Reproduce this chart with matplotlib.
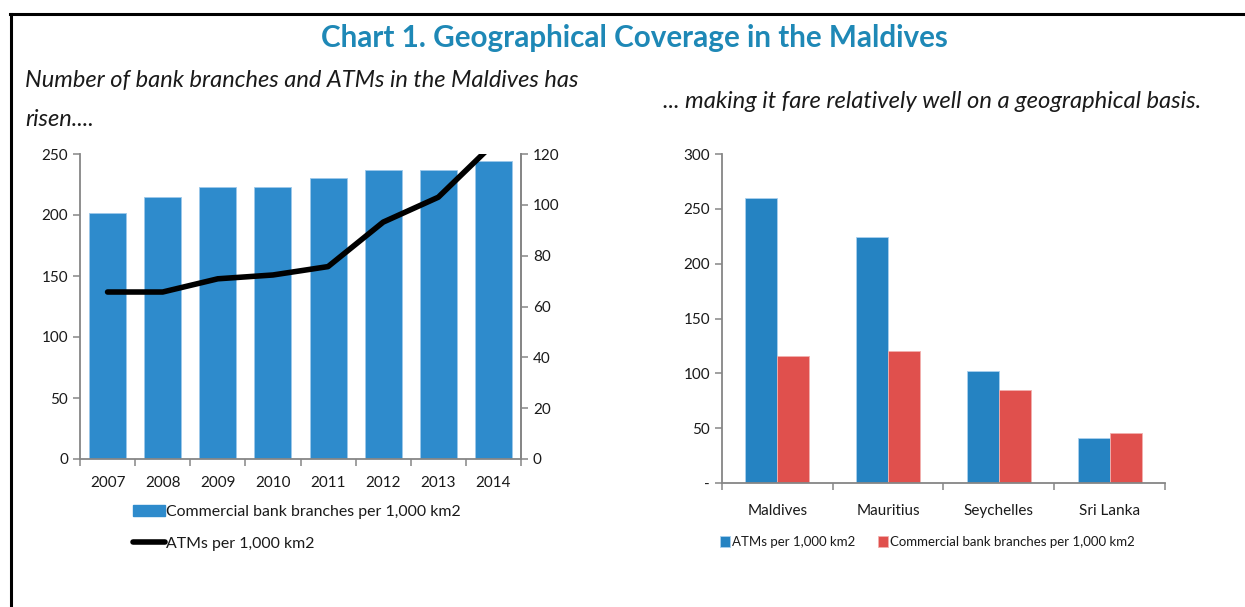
import matplotlib
matplotlib.use("Agg")
import matplotlib.pyplot as plt
from matplotlib.lines import Line2D
from matplotlib.patches import Patch
import numpy as np

plt.rcParams['font.family'] = ['Lato', 'DejaVu Sans']

# left chart data
years = ['2007', '2008', '2009', '2010', '2011', '2012', '2013', '2014']
branches = [202, 215, 223, 223, 230, 237, 237, 244]
atms = [65.7, 65.7, 70.9, 72.4, 75.7, 93.2, 103, 124]

# right chart data
countries = ['Maldives', 'Mauritius', 'Seychelles', 'Sri Lanka']
atms_cmp = [260, 224, 102, 41]
branches_cmp = [116, 120.5, 84.6, 45.4]

W, H = 1245, 607
blue_l = '#2E8BCC'
blue_r = '#2583C2'
red_r = '#E0504D'
grey = '#868686'
txt = '#1a1a1a'

fig = plt.figure(figsize=(W / 100, H / 100), dpi=100)

def box(l, t, r, b):
    return [l / W, 1 - b / H, (r - l) / W, (b - t) / H]

# frame lines (top and left)
fig.add_artist(Line2D([10 / W, 1], [1 - 14 / H] * 2, color='black', lw=2.2))
fig.add_artist(Line2D([10.5 / W] * 2, [0, 1 - 14 / H], color='black', lw=2.2))

fig.text(634 / W, 1 - 38 / H, 'Chart 1. Geographical Coverage in the Maldives',
         ha='center', va='center', fontsize=21.3, fontweight='bold', color='#1E88B6')
fig.text(25 / W, 1 - 80 / H, 'Number of bank branches and ATMs in the Maldives has',
         ha='left', va='center', fontsize=17, style='italic', color=txt)
fig.text(25 / W, 1 - 119 / H, 'risen....', ha='left', va='center', fontsize=17,
         style='italic', color=txt)
fig.text(663 / W, 1 - 101 / H, '... making it fare relatively well on a geographical basis.',
         ha='left', va='center', fontsize=17.1, style='italic', color=txt)

def style_axis(ax):
    for s in ax.spines.values():
        s.set_color(grey)
        s.set_linewidth(1.3)
    ax.tick_params(colors=grey, labelcolor=txt, labelsize=11, length=5, width=1.1)

# ---- left chart
ax = fig.add_axes(box(80, 154, 521, 459))
x = np.arange(len(years))
ax.bar(x, branches, width=0.67, color=blue_l, edgecolor='#9CC8EA', linewidth=0.6)
ax.set_xlim(-0.5, len(years) - 0.5)
ax.set_ylim(0, 250)
ax.set_yticks(range(0, 251, 50))
ax.set_xticks(x)
ax.set_xticklabels(years)
ax.set_xticks(np.arange(-0.5, len(years)), minor=True)
ax.spines['top'].set_visible(False)
style_axis(ax)
ax.tick_params(axis='x', which='major', length=0, pad=12)
ax.tick_params(axis='x', which='minor', length=5, width=1.1, color=grey)

ax2 = ax.twinx()
ax2.plot(x, atms, color='black', lw=4, solid_capstyle='round', solid_joinstyle='round')
ax2.set_ylim(0, 120)
ax2.set_yticks(range(0, 121, 20))
ax2.spines['top'].set_visible(False)
style_axis(ax2)
ax2.spines['left'].set_visible(False)
ax2.spines['bottom'].set_visible(False)

ax.legend(handles=[Patch(color=blue_l, label='Commercial bank branches per 1,000 km2'),
                   Line2D([0], [0], color='black', lw=4, solid_capstyle='round',
                          label='ATMs per 1,000 km2')],
          loc='upper left', bbox_to_anchor=(119 / W, 1 - 491 / H),
          bbox_transform=fig.transFigure, frameon=False, fontsize=11.4,
          handlelength=2.0, handletextpad=0.1, labelspacing=1.1, labelcolor=txt)

# ---- right chart
bx = fig.add_axes(box(722, 154, 1165, 483))
xc = np.arange(len(countries))
bw = 0.29
bx.bar(xc - bw / 2, atms_cmp, width=bw, color=blue_r, edgecolor='#A9D0EE', linewidth=0.6,
       label='ATMs per 1,000 km2')
bx.bar(xc + bw / 2, branches_cmp, width=bw, color=red_r, edgecolor='#F2B0AE', linewidth=0.6,
       label='Commercial bank branches per 1,000 km2')
bx.set_xlim(-0.5, len(countries) - 0.5)
bx.set_ylim(0, 300)
bx.set_yticks(range(0, 301, 50))
bx.set_yticklabels(['-'] + [str(v) for v in range(50, 301, 50)])
bx.set_xticks(xc)
bx.set_xticklabels(countries)
bx.set_xticks(np.arange(-0.5, len(countries)), minor=True)
bx.spines['top'].set_visible(False)
bx.spines['right'].set_visible(False)
style_axis(bx)
bx.tick_params(axis='x', which='major', length=0, pad=15)
bx.tick_params(axis='x', which='minor', length=5, width=1.1, color=grey)

bx.legend(loc='center left', bbox_to_anchor=(708 / W, 1 - 542 / H),
          bbox_transform=fig.transFigure, frameon=False, fontsize=9.5, ncol=2,
          handlelength=0.75, handleheight=0.9, handletextpad=0.15, columnspacing=1.75,
          labelcolor=txt)

fig.savefig('out.png', dpi=100)
